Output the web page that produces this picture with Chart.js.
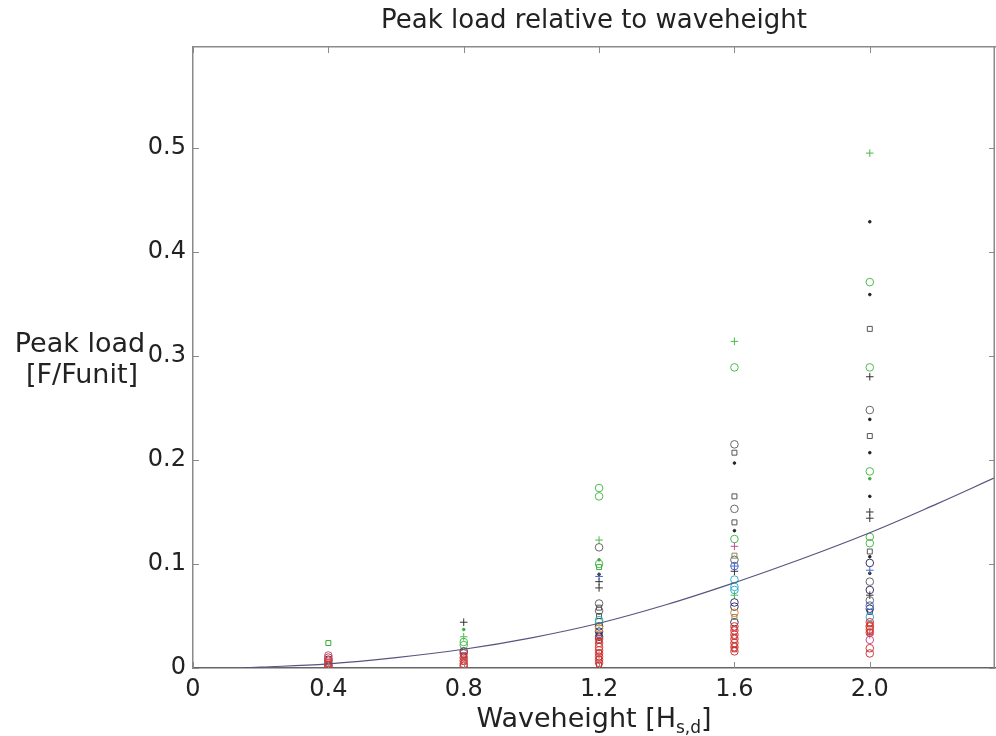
<!DOCTYPE html>
<html>
<head>
<meta charset="utf-8">
<title>Peak load relative to waveheight</title>
<script src="https://cdn.jsdelivr.net/npm/chart.js@4.4.1/dist/chart.umd.min.js"></script>
<style>
  html, body { margin: 0; padding: 0; background: #fff; }
  #wrap { width: 996px; height: 736px; }
</style>
</head>
<body>
<div id="wrap"><canvas id="scatterChart" width="996" height="736"></canvas></div>
<script>
// axis ticks
const xTickValues = [0, 0.4, 0.8, 1.2, 1.6, 2.0];
const xTickLabels = ['0', '0.4', '0.8', '1.2', '1.6', '2.0'];
const yTickValues = [0, 0.1, 0.2, 0.3, 0.4, 0.5];
const yTickLabels = ['0', '0.1', '0.2', '0.3', '0.4', '0.5'];

// measured peak loads, [waveheight, load]
const greenPlus = [[2.0, 0.495], [1.6, 0.314], [1.6, 0.070], [1.2, 0.123], [0.8, 0.030]];
const greenCircle = [[2.0, 0.371], [2.0, 0.289], [2.0, 0.189], [2.0, 0.126], [2.0, 0.120],
  [1.6, 0.289], [1.6, 0.124], [1.2, 0.173], [1.2, 0.165], [1.2, 0.100], [1.2, 0.044],
  [0.8, 0.025], [0.8, 0.022]];
const greenDot = [[2.0, 0.182], [1.2, 0.104], [0.8, 0.037]];
const greenSquare = [[0.4, 0.024], [1.2, 0.097]];
const blackDot = [[2.0, 0.429], [2.0, 0.359], [2.0, 0.239], [2.0, 0.207], [2.0, 0.165],
  [2.0, 0.107], [2.0, 0.091], [1.6, 0.197], [1.6, 0.132], [1.2, 0.090]];
const blackPlus = [[2.0, 0.280], [2.0, 0.150], [2.0, 0.144], [2.0, 0.070], [1.6, 0.093],
  [1.2, 0.083], [1.2, 0.077], [0.8, 0.044]];
const grayCircle = [[2.0, 0.248], [2.0, 0.083], [2.0, 0.065], [1.6, 0.215], [1.6, 0.153],
  [1.6, 0.104], [1.2, 0.116], [1.2, 0.062], [1.2, 0.055]];
const graySquare = [[2.0, 0.326], [2.0, 0.223], [2.0, 0.112], [1.6, 0.207], [1.6, 0.165],
  [1.6, 0.140], [1.2, 0.058], [1.2, 0.050]];
const navyCircle = [[2.0, 0.101], [2.0, 0.075], [2.0, 0.057], [1.6, 0.063], [1.6, 0.059],
  [1.6, 0.044], [1.2, 0.040], [1.2, 0.035], [1.2, 0.030], [0.8, 0.016], [0.4, 0.008]];
const navySquare = [[2.0, 0.054], [1.2, 0.032], [0.8, 0.012]];
const bluePlus = [[2.0, 0.094], [1.6, 0.098], [1.2, 0.088]];
const blueCircle = [[2.0, 0.060], [1.6, 0.098]];
const cyanCircle = [[2.0, 0.049], [1.6, 0.085], [1.6, 0.078], [1.6, 0.075], [1.2, 0.046]];
const orangeCircle = [[2.0, 0.040], [1.6, 0.053], [1.2, 0.038]];
const oliveSquare = [[1.6, 0.108], [1.6, 0.049]];
const magentaPlus = [[2.0, 0.032], [1.6, 0.117]];
const magentaCircle = [[2.0, 0.027], [0.4, 0.012]];
const redCircle = [[2.0, 0.044], [2.0, 0.040], [2.0, 0.037], [2.0, 0.034], [2.0, 0.019], [2.0, 0.014],
  [1.6, 0.040], [1.6, 0.036], [1.6, 0.032], [1.6, 0.028], [1.6, 0.024], [1.6, 0.020], [1.6, 0.016],
  [1.2, 0.028], [1.2, 0.024], [1.2, 0.020], [1.2, 0.017], [1.2, 0.014], [1.2, 0.011], [1.2, 0.008], [1.2, 0.005],
  [0.8, 0.014], [0.8, 0.010], [0.8, 0.007], [0.8, 0.004], [0.8, 0.002],
  [0.4, 0.010], [0.4, 0.007], [0.4, 0.005], [0.4, 0.003], [0.4, 0.002], [0.4, 0.001]];
const redSquare = [[2.0, 0.042], [2.0, 0.035], [1.6, 0.038], [1.6, 0.030], [1.6, 0.022], [1.6, 0.018],
  [1.2, 0.026], [1.2, 0.015], [1.2, 0.009], [1.2, 0.003], [0.8, 0.012], [0.8, 0.006], [0.4, 0.004]];

// fitted trend line
const fitX = [0.15, 0.2, 0.4, 0.6, 0.8, 1.0, 1.2, 1.4, 1.6, 1.8, 2.0, 2.2, 2.37];
const fitY = [0.0003, 0.0008, 0.004, 0.010, 0.018, 0.029, 0.043, 0.061, 0.082, 0.105, 0.130, 0.158, 0.183];

const toPoints = arr => arr.map(p => ({ x: p[0], y: p[1] }));

function markers(data, color, style) {
  const dot = style === 'dot';
  return {
    type: 'scatter',
    data: toPoints(data),
    pointStyle: dot ? 'circle' : style,
    pointRadius: dot ? 1.3 : (style === 'rect' ? 3.5 : 3.8),
    borderColor: color,
    backgroundColor: dot ? color : 'rgba(0,0,0,0)',
    borderWidth: 1
  };
}

const frameColor = '#8a8a8a';

const decorations = {
  id: 'decorations',
  afterDraw(chart) {
    const { ctx, chartArea: { left, right, top, bottom }, scales: { x, y } } = chart;
    ctx.save();
    ctx.strokeStyle = frameColor;
    ctx.lineWidth = 1.5;
    ctx.beginPath();
    ctx.moveTo(right - 0.75, top);
    ctx.lineTo(right - 0.75, bottom);
    ctx.stroke();

    ctx.lineWidth = 1;
    ctx.beginPath();
    xTickValues.forEach(v => {
      const px = Math.round(x.getPixelForValue(v)) + 0.5;
      ctx.moveTo(px, bottom); ctx.lineTo(px, bottom - 6);
      ctx.moveTo(px, top); ctx.lineTo(px, top + 6);
    });
    yTickValues.forEach(v => {
      const py = Math.round(y.getPixelForValue(v)) + 0.5;
      ctx.moveTo(left, py); ctx.lineTo(left + 6, py);
      ctx.moveTo(right, py); ctx.lineTo(right - 6, py);
    });
    ctx.stroke();

    // y axis label, horizontal, two lines
    ctx.fillStyle = '#222';
    ctx.textAlign = 'center';
    ctx.textBaseline = 'alphabetic';
    ctx.font = '27px "DejaVu Sans"';
    const yc = y.getPixelForValue(0.3);
    ctx.fillText('Peak load', 80, yc - 4);
    ctx.fillText('[F/Funit]', 82, yc + 27);

    // x axis label with subscript
    const big = '27px "DejaVu Sans"';
    const small = '17px "DejaVu Sans"';
    const parts = [['Waveheight [H', big, 0], ['s,d', small, 6], [']', big, 0]];
    let total = 0;
    parts.forEach(p => { ctx.font = p[1]; total += ctx.measureText(p[0]).width; });
    let cx = (left + right) / 2 - total / 2;
    ctx.textAlign = 'left';
    parts.forEach(p => {
      ctx.font = p[1];
      ctx.fillText(p[0], cx, 727 + p[2]);
      cx += ctx.measureText(p[0]).width;
    });
    ctx.restore();
  }
};

const ctx = document.getElementById('scatterChart').getContext('2d');
const scatterChart = new Chart(ctx, {
  type: 'scatter',
  data: {
    datasets: [
      {
        type: 'line',
        data: fitX.map((v, i) => ({ x: v, y: fitY[i] })),
        borderColor: '#55557f',
        borderWidth: 1.2,
        pointRadius: 0,
        tension: 0.4,
        fill: false
      },
      markers(redCircle, '#d03a3a', 'circle'),
      markers(redSquare, '#c02a2a', 'rect'),
      markers(magentaCircle, '#c05090', 'circle'),
      markers(magentaPlus, '#c05090', 'cross'),
      markers(oliveSquare, '#8a8a5a', 'rect'),
      markers(orangeCircle, '#e08a2a', 'circle'),
      markers(cyanCircle, '#30b0d0', 'circle'),
      markers(blueCircle, '#4a6ac8', 'circle'),
      markers(bluePlus, '#4a6ac8', 'cross'),
      markers(navySquare, '#35356a', 'rect'),
      markers(navyCircle, '#35356a', 'circle'),
      markers(graySquare, '#555', 'rect'),
      markers(grayCircle, '#666', 'circle'),
      markers(blackPlus, '#333', 'cross'),
      markers(blackDot, '#222', 'dot'),
      markers(greenSquare, '#3caa3c', 'rect'),
      markers(greenDot, '#3caa3c', 'dot'),
      markers(greenCircle, '#4cbb4c', 'circle'),
      markers(greenPlus, '#4cbb4c', 'cross')
    ]
  },
  options: {
    responsive: false,
    animation: false,
    layout: { autoPadding: false, padding: { left: 0, right: 1, top: 0, bottom: 0 } },
    plugins: {
      legend: { display: false },
      tooltip: { enabled: false },
      title: { display: false }
    },
    scales: {
      x: {
        type: 'linear',
        position: 'bottom',
        min: 0,
        max: 2.37,
        afterBuildTicks: scale => { scale.ticks = xTickValues.map(v => ({ value: v })); },
        afterFit: scale => { scale.height = 68; },
        ticks: {
          callback: (v, i) => xTickLabels[i],
          color: '#222',
          font: { family: 'DejaVu Sans', size: 24 },
          padding: 7,
          maxRotation: 0
        },
        grid: { display: true, drawOnChartArea: false, drawTicks: false },
        border: { color: '#666', width: 1.5 }
      },
      x2: {
        type: 'linear',
        position: 'top',
        min: 0,
        max: 2.37,
        afterFit: scale => { scale.height = 47; },
        ticks: { display: false },
        grid: { display: true, drawOnChartArea: false, drawTicks: false },
        border: { color: frameColor, width: 1.5 },
        title: {
          display: true,
          text: 'Peak load relative to waveheight',
          color: '#222',
          font: { family: 'DejaVu Sans', size: 26 },
          padding: { top: 6, bottom: 0 }
        }
      },
      y: {
        type: 'linear',
        position: 'left',
        min: 0,
        max: 0.597,
        afterBuildTicks: scale => { scale.ticks = yTickValues.map(v => ({ value: v })); },
        afterFit: scale => { scale.width = 193; },
        ticks: {
          callback: (v, i) => yTickLabels[i],
          color: '#222',
          font: { family: 'DejaVu Sans', size: 24 },
          padding: 7
        },
        grid: { display: true, drawOnChartArea: false, drawTicks: false },
        border: { color: frameColor, width: 1.5 }
      }
    }
  },
  plugins: [decorations]
});
</script>
</body>
</html>
